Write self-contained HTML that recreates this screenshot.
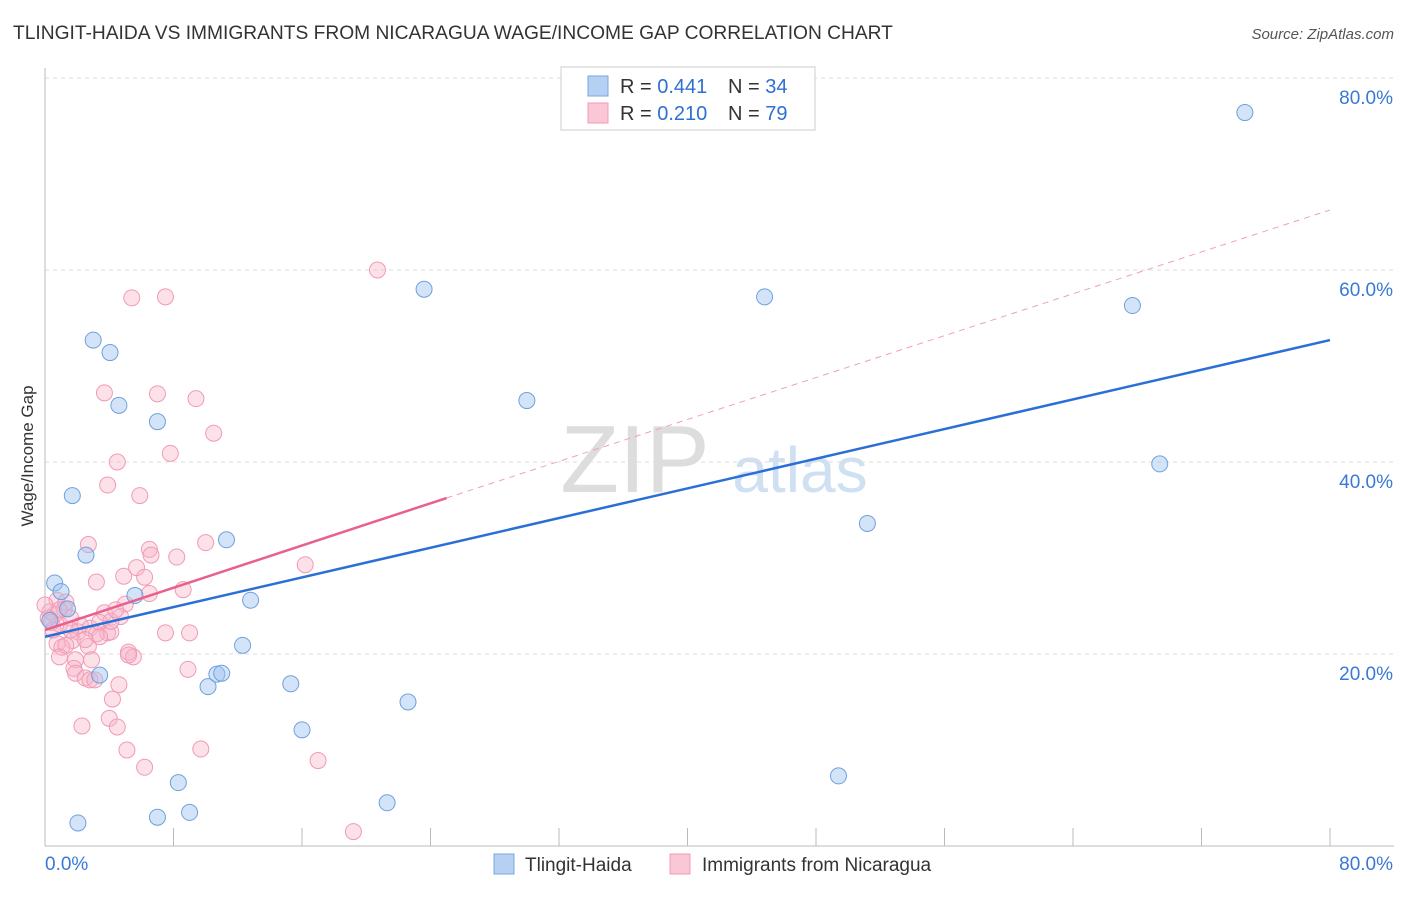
<!DOCTYPE html>
<html><head><meta charset="utf-8"><style>
body{margin:0;background:#fff;font-family:"Liberation Sans",sans-serif;}
svg text{font-family:"Liberation Sans",sans-serif;}
</style></head><body>
<svg id="chart" width="1406" height="892" xmlns="http://www.w3.org/2000/svg">
<text x="13" y="39" font-size="19.2" fill="#333">TLINGIT-HAIDA VS IMMIGRANTS FROM NICARAGUA WAGE/INCOME GAP CORRELATION CHART</text>
<text x="1394" y="39" font-size="15" fill="#555" text-anchor="end" font-style="italic">Source: ZipAtlas.com</text>
<text transform="translate(33,456) rotate(-90)" font-size="17" fill="#333" text-anchor="middle">Wage/Income Gap</text>
<g>
<text x="635" y="492" font-size="96" fill="#ddd" text-anchor="middle" font-family="Liberation Serif,serif">ZIP</text>
<text x="800" y="492" font-size="64" fill="#cfe0f3" text-anchor="middle">atlas</text>
</g>
<g id="grid"></g><g id="axes"></g><g id="marks"></g>
<g>
<rect x="561" y="67" width="254" height="63" fill="#fff" stroke="#ccc"/>
<rect x="588" y="76" width="20" height="20" fill="#b5d0f2" stroke="#7aa7e0"/>
<text x="620" y="93" font-size="20" fill="#333">R = <tspan fill="#2f6fd1">0.441</tspan></text>
<text x="728" y="93" font-size="20" fill="#333">N = <tspan fill="#2f6fd1">34</tspan></text>
<rect x="588" y="103" width="20" height="20" fill="#f9c7d6" stroke="#f29ab5"/>
<text x="620" y="120" font-size="20" fill="#333">R = <tspan fill="#2f6fd1">0.210</tspan></text>
<text x="728" y="120" font-size="20" fill="#333">N = <tspan fill="#2f6fd1">79</tspan></text>
</g>
<g>
<rect x="494" y="854" width="20" height="20" fill="#b5d0f2" stroke="#7aa7e0"/>
<text x="525" y="871" font-size="19" fill="#333">Tlingit-Haida</text>
<rect x="670" y="854" width="20" height="20" fill="#f9c7d6" stroke="#f29ab5"/>
<text x="702" y="871" font-size="19" fill="#333">Immigrants from Nicaragua</text>
</g>
</svg>
<script>
const yTicks=[20,40,60,80];
const yTickLabels=["20.0%","40.0%","60.0%","80.0%"];
const xTicks=[0,8,16,24,32,40,48,56,64,72,80];
const blueX=[2.05,0.6,1.0,1.4,1.7,2.55,3.0,4.05,4.6,7.0,3.4,5.6,7.0,8.3,9.0,10.15,10.7,11.0,11.3,12.3,12.8,15.3,16.0,21.3,22.6,23.6,30.0,44.8,49.4,51.2,67.7,69.4,74.7,0.3];
const blueY=[2.4,27.4,26.5,24.7,36.5,30.3,52.7,51.4,45.9,44.2,17.8,26.1,3.0,6.6,3.5,16.6,17.9,18.0,31.9,20.9,25.6,16.9,12.1,4.5,15.0,58.0,46.4,57.2,7.3,33.6,56.3,39.8,76.4,23.5];
const pinkX=[20.7,5.4,7.5,3.7,7.0,9.4,10.5,7.8,4.5,3.9,5.9,2.7,6.5,6.6,8.2,10.0,16.2,3.2,4.9,5.7,6.2,8.6,6.5,5.0,3.7,4.7,0.75,0.3,1.2,0.4,0.9,1.6,2.2,2.8,3.2,3.4,3.9,4.1,2.05,1.7,0.75,1.05,1.3,2.7,4.1,7.5,9.0,5.2,5.5,5.2,0.9,1.9,1.8,1.9,2.5,2.8,3.1,4.6,8.9,4.2,4.0,4.5,2.3,5.1,9.7,6.2,17.0,19.2,0.6,0.2,0.5,1.6,3.4,1.3,2.9,4.4,0.9,0.0,2.5];
const pinkY=[60.0,57.1,57.2,47.2,47.1,46.6,43.0,40.9,40.0,37.6,36.5,31.4,30.9,30.3,30.1,31.6,29.3,27.5,28.1,29.0,28.0,26.7,26.3,25.2,24.3,23.9,25.6,24.4,24.7,23.3,23.1,23.75,23.0,22.7,22.1,23.3,22.2,22.3,22.3,21.4,21.1,20.7,20.9,20.8,23.4,22.2,22.2,20.2,19.7,19.9,19.7,19.4,18.5,18.0,17.5,17.3,17.3,16.8,18.4,15.3,13.3,12.4,12.5,10.0,10.1,8.2,8.9,1.5,24.1,23.75,22.5,22.5,21.8,25.4,19.4,24.6,24.6,25.1,21.5];
const blueTrend=[0,21.8,80,52.7];
const pinkTrend=[0,22.5,25,36.25,80,66.25];
const NS="http://www.w3.org/2000/svg";
const X=v=>45+v*1285/80, Y=v=>846-v*9.6;
function mk(tag,attrs,parent){const e=document.createElementNS(NS,tag);for(const k in attrs)e.setAttribute(k,attrs[k]);parent.appendChild(e);return e;}
const grid=document.getElementById('grid'),axes=document.getElementById('axes'),marks=document.getElementById('marks');
yTicks.forEach((t,i)=>{
 const l=mk('line',{x1:45,x2:1394,y1:Y(t),y2:Y(t),stroke:'#ddd','stroke-dasharray':'4,4'},grid);
 
 
 const tx=mk('text',{x:1393,y:Y(t)+26,'font-size':19,fill:'#3a78d6','text-anchor':'end'},axes);
 tx.textContent=yTickLabels[i];
 
 
});
const xa=mk('line',{x1:45,x2:1394,y1:846,y2:846,stroke:'#bbb'},axes);


const ya=mk('line',{x1:45,x2:45,y1:68,y2:846,stroke:'#bbb'},axes);


xTicks.forEach(t=>{const l=mk('line',{x1:X(t),x2:X(t),y1:828,y2:846,stroke:'#bbb'},axes);
 
 });
const x0=mk('text',{x:45,y:870,'font-size':19,fill:'#3a78d6'},axes);x0.textContent='0.0%';


const x1=mk('text',{x:1393,y:870,'font-size':19,fill:'#3a78d6','text-anchor':'end'},axes);x1.textContent='80.0%';


pinkX.forEach((v,i)=>{const c=mk('circle',{cx:X(v),cy:Y(pinkY[i]),r:8,fill:'rgba(248,180,200,0.4)',stroke:'#f29ab5','stroke-width':1},marks);
 
 });
blueX.forEach((v,i)=>{const c=mk('circle',{cx:X(v),cy:Y(blueY[i]),r:8,fill:'rgba(160,196,240,0.45)',stroke:'#6fa0de','stroke-width':1},marks);
 
 });
const pd=mk('line',{x1:X(pinkTrend[2]),y1:Y(pinkTrend[3]),x2:X(pinkTrend[4]),y2:Y(pinkTrend[5]),stroke:'#f0a0b8','stroke-width':1,'stroke-dasharray':'6,5'},marks);


const ps=mk('line',{x1:X(pinkTrend[0]),y1:Y(pinkTrend[1]),x2:X(pinkTrend[2]),y2:Y(pinkTrend[3]),stroke:'#e8608c','stroke-width':2.5},marks);


const bl=mk('line',{x1:X(blueTrend[0]),y1:Y(blueTrend[1]),x2:X(blueTrend[2]),y2:Y(blueTrend[3]),stroke:'#2a6fd6','stroke-width':2.5},marks);


</script>
</body></html>
